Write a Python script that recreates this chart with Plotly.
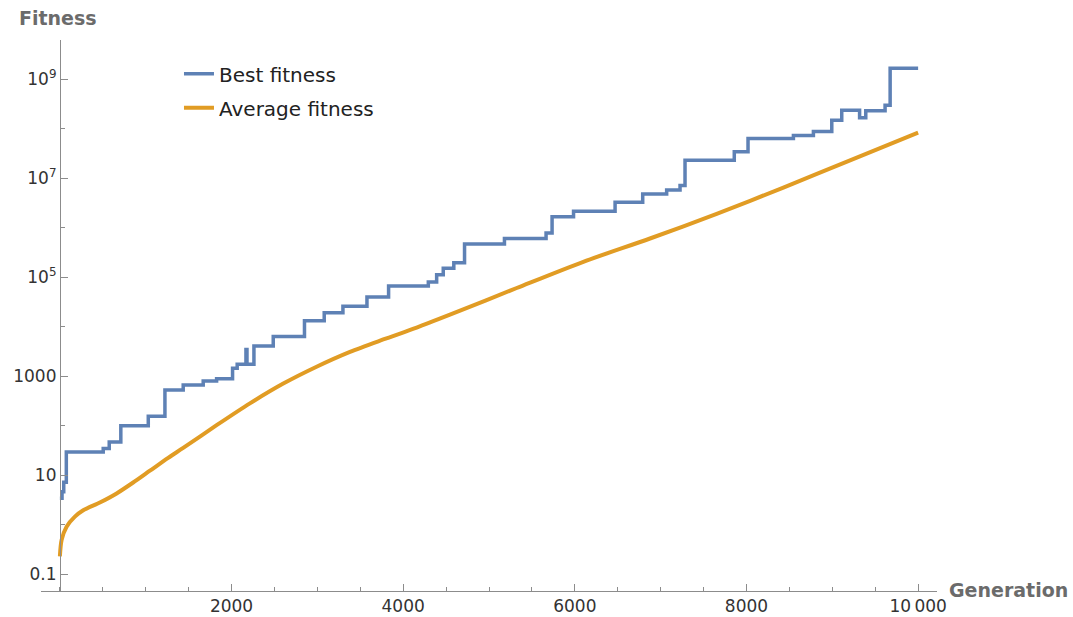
import plotly.graph_objects as go

# Best fitness: generation where the best individual changes, and its new fitness
best_generation = [0, 25, 45, 75, 505, 575, 710, 1030, 1224, 1437, 1670, 1826,
                   2012, 2066, 2168, 2180, 2261, 2486, 2850, 3080, 3298, 3578,
                   3830, 4293, 4390, 4467, 4590, 4715, 5180, 5665, 5735, 5985,
                   6469, 6791, 7070, 7226, 7284, 7858, 8018, 8547, 8780, 8994,
                   9110, 9318, 9390, 9615, 9674, 10000]
best_fitness = [3.4, 4.6, 7.2, 29.5, 34.7, 46.8, 100, 155, 525, 660, 795, 890,
                1450, 1740, 3470, 1740, 4070, 6300, 1.32e4, 1.9e4, 2.57e4, 3.98e4,
                6.6e4, 7.94e4, 1.12e5, 1.51e5, 1.95e5, 4.68e5, 6.03e5, 7.76e5, 1.66e6, 2.14e6,
                3.24e6, 4.79e6, 5.75e6, 7.08e6, 2.29e7, 3.39e7, 6.31e7, 7.24e7, 8.71e7, 1.48e8,
                2.34e8, 1.66e8, 2.29e8, 2.95e8, 1.66e9, 1.66e9]

# Average fitness of the population
avg_generation = [0, 20, 78, 175, 272, 466, 661, 854, 1049, 1262, 1437, 1826,
                  2214, 2603, 2991, 3380, 3768, 4157, 4545, 5323, 6099, 6876,
                  7653, 8430, 9207, 10000]
avg_fitness = [0.23, 0.49, 0.91, 1.45, 1.95, 2.8, 4.27, 7.1, 12.3, 22.4, 35.5, 102,
               282, 708, 1550, 3090, 5500, 9550, 1.74e4, 6.03e4, 2.04e5, 6.03e5,
               1.9e6, 6.46e6, 2.29e7, 8.32e7]

x_tickvals = [2000, 4000, 6000, 8000, 10000]
x_ticktext = ["2000", "4000", "6000", "8000", "10\u2009000"]
y_tickvals = [0.1, 10, 1000, 1e5, 1e7, 1e9]
y_ticktext = ["0.1", "10", "1000", "10<sup>5</sup>", "10<sup>7</sup>", "10<sup>9</sup>"]
y_minorvals = [1, 100, 1e4, 1e6, 1e8]

X_RANGE = [-220, 10220]
Y_RANGE = [-1.34, 9.79]  # log10 units

BLUE = "#5E81B5"
ORANGE = "#E19C24"
AXIS = "#8c8c8c"
FONT = "DejaVu Sans"

fig = go.Figure()
fig.add_trace(go.Scatter(
    x=best_generation, y=best_fitness, mode="lines", name="Best fitness",
    line=dict(color=BLUE, width=3.5, shape="hv"), legendgroup="best",
))
fig.add_trace(go.Scatter(
    x=avg_generation, y=avg_fitness, mode="lines", name="Average fitness",
    line=dict(color=ORANGE, width=4, shape="spline", smoothing=0.8),
    legendgroup="avg",
))

fig.update_layout(
    width=1073, height=617,
    margin=dict(l=41, r=136, t=40, b=26),
    paper_bgcolor="white", plot_bgcolor="white",
    font=dict(family=FONT, size=17, color="#333333"),
    showlegend=True,
    legend=dict(
        x=0.154, y=0.974, xanchor="left", yanchor="top",
        font=dict(family=FONT, size=20, color="#222222"),
        bgcolor="rgba(0,0,0,0)", traceorder="grouped", tracegroupgap=5,
    ),
    xaxis=dict(
        range=X_RANGE, showgrid=False, zeroline=False, automargin=False,
        showline=True, linecolor=AXIS, linewidth=1,
        ticks="inside", ticklen=7, tickwidth=1, tickcolor=AXIS,
        tickmode="array", tickvals=x_tickvals, ticktext=x_ticktext,
        tickfont=dict(family=FONT, size=17, color="#333333"),
        minor=dict(tickmode="linear", tick0=0, dtick=500, ticks="inside",
                   ticklen=4, tickwidth=1, tickcolor=AXIS, showgrid=False),
    ),
    yaxis=dict(
        type="log", range=Y_RANGE, showgrid=False, zeroline=False, automargin=False,
        anchor="free", position=(0 - X_RANGE[0]) / (X_RANGE[1] - X_RANGE[0]),
        showline=True, linecolor=AXIS, linewidth=1,
        ticks="inside", ticklen=7, tickwidth=1, tickcolor=AXIS,
        tickmode="array", tickvals=y_tickvals, ticktext=y_ticktext,
        tickfont=dict(family=FONT, size=17, color="#333333"),
        minor=dict(tickmode="array", tickvals=y_minorvals, ticks="inside",
                   ticklen=4, tickwidth=1, tickcolor=AXIS, showgrid=False),
    ),
    annotations=[
        dict(text="<b>Fitness</b>", xref="paper", yref="paper",
             x=0.0195, y=1.04, xanchor="center", yanchor="middle",
             showarrow=False, font=dict(family=FONT, size=19, color="#6b6b6b")),
        dict(text="<b>Generation</b>", xref="paper", yref="paper",
             x=1.011, y=0.002, xanchor="left", yanchor="middle",
             showarrow=False, font=dict(family=FONT, size=19, color="#6b6b6b")),
    ],
)

fig.write_html("out.html")
